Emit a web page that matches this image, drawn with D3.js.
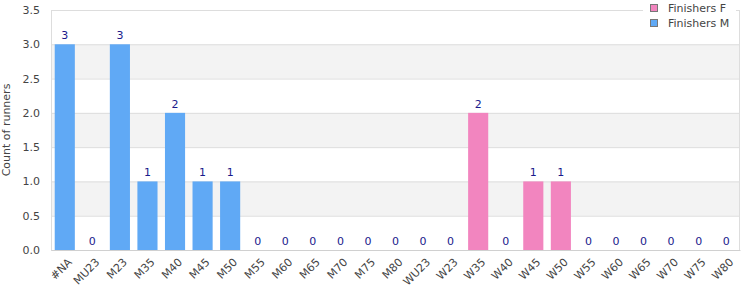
<!DOCTYPE html>
<html>
<head>
<meta charset="utf-8">
<script src="https://cdn.jsdelivr.net/npm/d3@7"></script>
<style>
  body { margin: 0; background: #fff; }
  text { font-family: "DejaVu Sans", sans-serif; }
</style>
</head>
<body>
<script>
var categories = ["#NA", "MU23", "M23", "M35", "M40", "M45", "M50", "M55", "M60", "M65", "M70", "M75", "M80",
                  "WU23", "W23", "W35", "W40", "W45", "W50", "W55", "W60", "W65", "W70", "W75", "W80"];
var finishersM = [3, 0, 3, 1, 2, 1, 1, 0, 0, 0, 0, 0, 0, null, null, null, null, null, null, null, null, null, null, null, null];
var finishersF = [null, null, null, null, null, null, null, null, null, null, null, null, null, 0, 0, 2, 0, 1, 1, 0, 0, 0, 0, 0, 0];
var yTicks = [0, 0.5, 1, 1.5, 2, 2.5, 3, 3.5];
var seriesNames = ["Finishers F", "Finishers M"];
var colors = { "Finishers F": "#f285bf", "Finishers M": "#60a9f5" };

var svgWidth = 750, svgHeight = 300;
var margin = { top: 10, right: 10, bottom: 50, left: 51 };
var chartWidth = svgWidth - margin.left - margin.right;
var chartHeight = svgHeight - margin.top - margin.bottom;

var svg = d3.select("body").append("svg")
    .attr("width", svgWidth)
    .attr("height", svgHeight);

var chartGroup = svg.append("g")
    .attr("transform", `translate(${margin.left}, ${margin.top})`);

var xScale = d3.scaleBand()
    .domain(categories)
    .range([0, chartWidth])
    .paddingInner(0.27)
    .paddingOuter(0.135);

var yScale = d3.scaleLinear()
    .domain([0, 3.5])
    .range([chartHeight, 0]);

// alternating bands
for (var i = 0; i < yTicks.length - 1; i++) {
    if (i % 2 == 1) {
        chartGroup.append("rect")
            .attr("x", 0)
            .attr("y", yScale(yTicks[i + 1]))
            .attr("width", chartWidth)
            .attr("height", yScale(yTicks[i]) - yScale(yTicks[i + 1]))
            .attr("fill", "#f3f3f3");
    }
}

// grid lines
chartGroup.append("g")
    .call(d3.axisLeft(yScale).tickValues(yTicks).tickSize(-chartWidth).tickFormat(""))
    .call(g => g.select(".domain").remove())
    .selectAll("line").attr("stroke", "#dddddd");

// border
chartGroup.append("rect")
    .attr("x", 0.5).attr("y", 0.5)
    .attr("width", chartWidth - 1).attr("height", chartHeight)
    .attr("fill", "none").attr("stroke", "#dddddd");

// y axis labels
var yAxis = chartGroup.append("g")
    .call(d3.axisLeft(yScale).tickValues(yTicks).tickSize(0).tickPadding(11).tickFormat(d3.format(".1f")));
yAxis.select(".domain").remove();
yAxis.selectAll("text").attr("fill", "#444").style("font-size", "11px");

// x axis labels
var xAxis = chartGroup.append("g")
    .attr("transform", `translate(0,${chartHeight})`)
    .call(d3.axisBottom(xScale).tickSize(0).tickPadding(6));
xAxis.select(".domain").attr("stroke", "#d0d0d0");
xAxis.selectAll("text")
    .attr("fill", "#444")
    .style("font-size", "11px")
    .attr("text-anchor", "end")
    .attr("dy", "0.6em")
    .attr("transform", "translate(-1,4) rotate(-45)");

var bars = [];
categories.forEach((c, i) => {
    if (finishersM[i] != null) bars.push({ cat: c, value: finishersM[i], series: "Finishers M" });
    if (finishersF[i] != null) bars.push({ cat: c, value: finishersF[i], series: "Finishers F" });
});

chartGroup.selectAll(".bar")
    .data(bars)
    .enter()
    .append("rect")
    .attr("class", "bar")
    .attr("x", d => xScale(d.cat))
    .attr("y", d => yScale(d.value))
    .attr("width", xScale.bandwidth())
    .attr("height", d => chartHeight - yScale(d.value))
    .attr("fill", d => colors[d.series]);

chartGroup.selectAll(".label")
    .data(bars)
    .enter()
    .append("text")
    .attr("class", "label")
    .attr("x", d => xScale(d.cat) + xScale.bandwidth() / 2)
    .attr("y", d => yScale(d.value) - 5)
    .attr("text-anchor", "middle")
    .attr("fill", "#1a1a8c")
    .style("font-size", "11px")
    .text(d => d.value);

// y axis title
svg.append("text")
    .attr("transform", `translate(6, ${margin.top + chartHeight / 2}) rotate(-90)`)
    .attr("text-anchor", "middle")
    .attr("dy", "0.35em")
    .attr("fill", "#444")
    .style("font-size", "11px")
    .text("Count of runners");

// legend
var legend = svg.append("g").attr("transform", "translate(643, 0)");
legend.append("rect")
    .attr("x", 0).attr("y", 0)
    .attr("width", 93).attr("height", 34)
    .attr("fill", "#fff");
seriesNames.forEach((s, i) => {
    legend.append("rect")
        .attr("x", 7.5).attr("y", 4.5 + i * 15)
        .attr("width", 7).attr("height", 7)
        .attr("fill", colors[s]).attr("stroke", "#777");
    legend.append("text")
        .attr("x", 25).attr("y", 8 + i * 15)
        .attr("dy", "0.35em")
        .attr("fill", "#444")
        .style("font-size", "11px")
        .text(s);
});
</script>
</body>
</html>
